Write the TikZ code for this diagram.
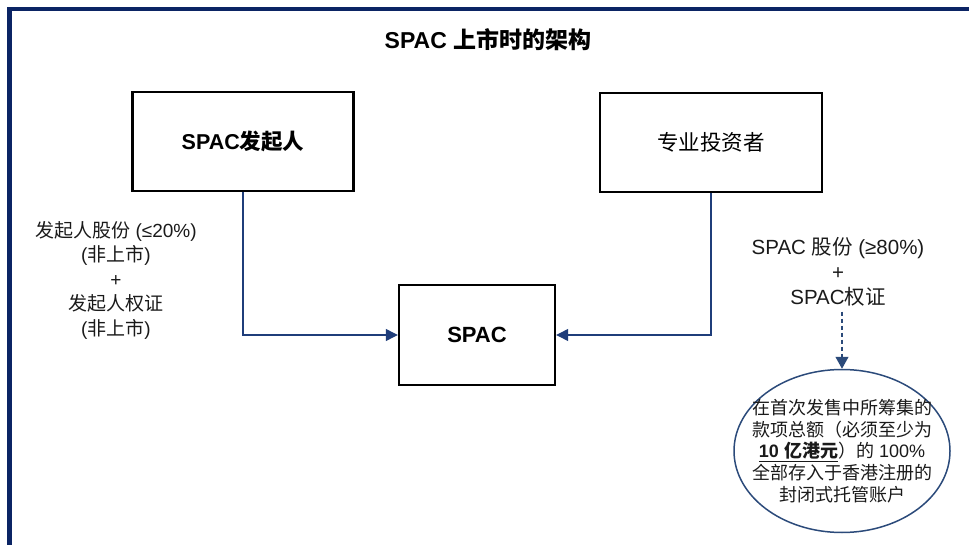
\documentclass[tikz,border=0pt]{standalone}
\usepackage{fontspec}
\setmainfont{Liberation Sans}
\newfontfamily\cjk{Noto Sans CJK SC}
\usetikzlibrary{arrows.meta,shapes.geometric}
\newcommand{\zh}[1]{{\cjk #1}}
\newcommand{\zhb}[1]{{\cjk\bfseries #1}}
\definecolor{framenavy}{HTML}{0B2464}
\definecolor{linknavy}{HTML}{1F3D7A}
\definecolor{ellnavy}{HTML}{2B4A7A}
\definecolor{txt}{HTML}{1A1A1A}
\tikzset{
  x=1pt, y=-1pt,
  boxnode/.style={draw=black, line width=2.4pt, minimum width=221pt, minimum height=99pt, inner sep=0pt, text=black},
  labelnode/.style={align=center, text=txt, inner sep=2pt},
  link/.style={draw=linknavy, line width=1.2pt, -{Triangle[length=12pt,width=12pt]}},
  dashlink/.style={draw=ellnavy, line width=1.2pt, dash pattern=on 4pt off 3pt, -{Triangle[length=12pt,width=13pt]}},
}
\begin{document}
\begin{tikzpicture}
\useasboundingbox (0,0) rectangle (969,545);
% frame
\draw[framenavy, line width=4.5pt] (9.5,548) -- (9.5,9) -- (975,9);
% title
\node[text=black, font=\fontsize{23}{27}\selectfont] (title) at (488,40) {\textbf{SPAC} \zhb{上市时的架构}};
% boxes
\node[boxnode, font=\fontsize{21.5}{24}\selectfont] (spons) at (243,141.5) {\textbf{SPAC}\zhb{发起人}};
\node[boxnode, minimum width=222pt, font=\fontsize{21.5}{24}\selectfont] (inv) at (711,142.5) {\zh{专业投资者}};
\node[boxnode, minimum width=156pt, minimum height=100pt, font=\fontsize{22}{24}\selectfont] (spac) at (477,335) {\textbf{SPAC}};
% connectors
\draw[link] (spons.south) |- (spac.west);
\draw[link] (inv.south) |- (spac.east);
% left label
\node[labelnode, font=\fontsize{19}{24.5}\selectfont] (leftlab) at (116,280)
  {\zh{发起人股份} (≤20\%)\\(\zh{非上市})\\+\\\zh{发起人权证}\\(\zh{非上市})};
% right label
\node[labelnode, font=\fontsize{20.5}{25}\selectfont] (rightlab) at (838,272)
  {SPAC \zh{股份} (≥80\%)\\+\\SPAC\zh{权证}};
% ellipse
\node[ellipse, draw=ellnavy, line width=1.5pt, minimum width=216pt, minimum height=163pt, inner sep=0pt] (ell) at (842,451) {};
\node[labelnode, font=\fontsize{18}{21.8}\selectfont] (elltext) at (ell.center)
  {\zh{在首次发售中所筹集的}\\\zh{款项总额（必须至少为}\\\underline{\textbf{10 }\zhb{亿港元}}\zh{）的} 100\%\\\zh{全部存入于香港注册的}\\\zh{封闭式托管账户}};
\draw[dashlink] (rightlab.south -| ell.north) ++(0,3) -- (ell.north);
\end{tikzpicture}
\end{document}
